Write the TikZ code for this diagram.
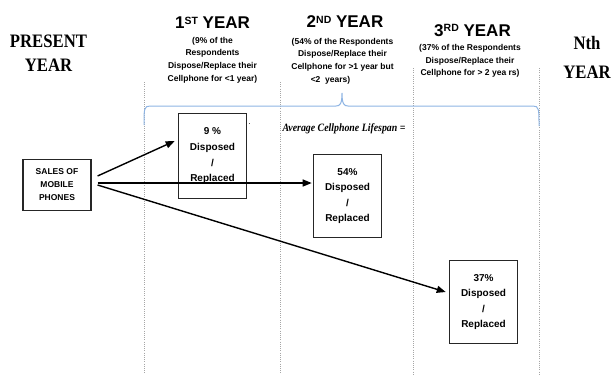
\documentclass[tikz,border=0pt]{standalone}
\usepackage{fontspec}
\setmainfont{Liberation Sans}
\newfontfamily\serf[FakeStretch=0.88]{Liberation Serif}
\usetikzlibrary{arrows.meta,calc}
\newcommand\supt[1]{\raisebox{4.6pt}{\fontsize{10.5}{10.5}\selectfont #1}}
\begin{document}
\begin{tikzpicture}[x=1pt,y=-1pt,
 yearhead/.style={font=\fontsize{17}{17}\selectfont\bfseries, inner sep=0pt, anchor=base},
 subtxt/.style={font=\fontsize{8.5}{12.7}\selectfont\bfseries, align=center, inner sep=0pt},
 bigserif/.style={font=\serf\fontsize{19}{23.7}\selectfont\bfseries, align=center, inner sep=0pt},
 dispbox/.style={draw=black!85, line width=1.1pt, minimum width=68.5pt, minimum height=83pt, inner sep=0pt, align=center, font=\fontsize{10}{15.6}\selectfont\bfseries},
 salesbox/.style={draw=black!85, line width=1.1pt, minimum width=68pt, minimum height=51pt, inner sep=0pt, align=center, font=\fontsize{8.5}{13.2}\selectfont\bfseries},
 flow/.style={line width=1.4pt, -{Triangle[length=9pt,width=7pt]}},
 yearline/.style={gray!70, line width=0.6pt, dash pattern=on 1pt off 1.2pt},
 bracestyle/.style={draw={rgb,255:red,142;green,180;blue,227}, line width=1pt}
]
\useasboundingbox (0,0) rectangle (612,376);

% vertical dotted separators
\draw[yearline] (144,82) -- (144,374);
\draw[yearline] (280,82) -- (280,374);
\draw[yearline] (413,68) -- (413,374);
\draw[yearline] (539,68) -- (539,374);

% brace
\draw[bracestyle] (144,125) .. controls (144,109) and (144,106) .. (150,106) -- (336,106)
  .. controls (340,106) and (342,104) .. (342,93)
  .. controls (342,104) and (344,106) .. (348,106) -- (533,106)
  .. controls (539,106) and (539,109) .. (539,126);

% headings
\node[bigserif] (present) at (48.5,53.3) {PRESENT\\YEAR};
\node[font=\serf\fontsize{19}{28.3}\selectfont\bfseries, align=center, inner sep=0pt] (nth) at (587,57.3) {Nth\\YEAR};

\node[yearhead] (y1) at (212.5,28.9) {1\supt{ST} YEAR};
\node[yearhead] (y2) at (345,27.8) {2\supt{ND} YEAR};
\node[yearhead] (y3) at (472.5,36.1) {3\supt{RD} YEAR};

\node[subtxt] (t1) at (212.5,60) {(9\% of the\\Respondents\\Dispose/Replace their\\Cellphone for <1 year)};
\node[subtxt] (t2) at (342.5,61) {(54\% of the Respondents\\Dispose/Replace their\\Cellphone for >1 year but\\<2~~years)\rule{24pt}{0pt}};
\node[subtxt] (t3) at (470,61) {(37\% of the Respondents\\Dispose/Replace their\\Cellphone for > 2 yea rs)};

\node[font=\serf\bfseries\itshape\fontsize{11.2}{12}\selectfont, inner sep=0pt] (avg) at (344,128.5) {Average Cellphone Lifespan =};
\node[font=\fontsize{8}{8}\selectfont, inner sep=0pt] (dot) at (249.5,124) {.};

% boxes
\node[salesbox] (sales) at (57,184.6) {SALES OF\\MOBILE\\PHONES};
\node[dispbox, minimum height=85pt] (b9) at (212.5,155.8) {9 \%\\Disposed\\/\\Replaced};
\node[dispbox] (b54) at (347.5,196) {54\%\\Disposed\\/\\Replaced};
\node[dispbox] (b37) at (483.5,302) {37\%\\Disposed\\/\\Replaced};

% arrows
\draw[flow] ($(sales.east)+(6,-8.6)$) -- ($(b9.west)+(-3,-14.8)$);
\draw[flow] ($(sales.east)+(6,-1.6)$) -- ($(b54.west)+(-1,-13)$);
\draw[flow] ($(sales.east)+(6,0.4)$) -- ($(b37.west)+(-3,-10)$);
\end{tikzpicture}
\end{document}
